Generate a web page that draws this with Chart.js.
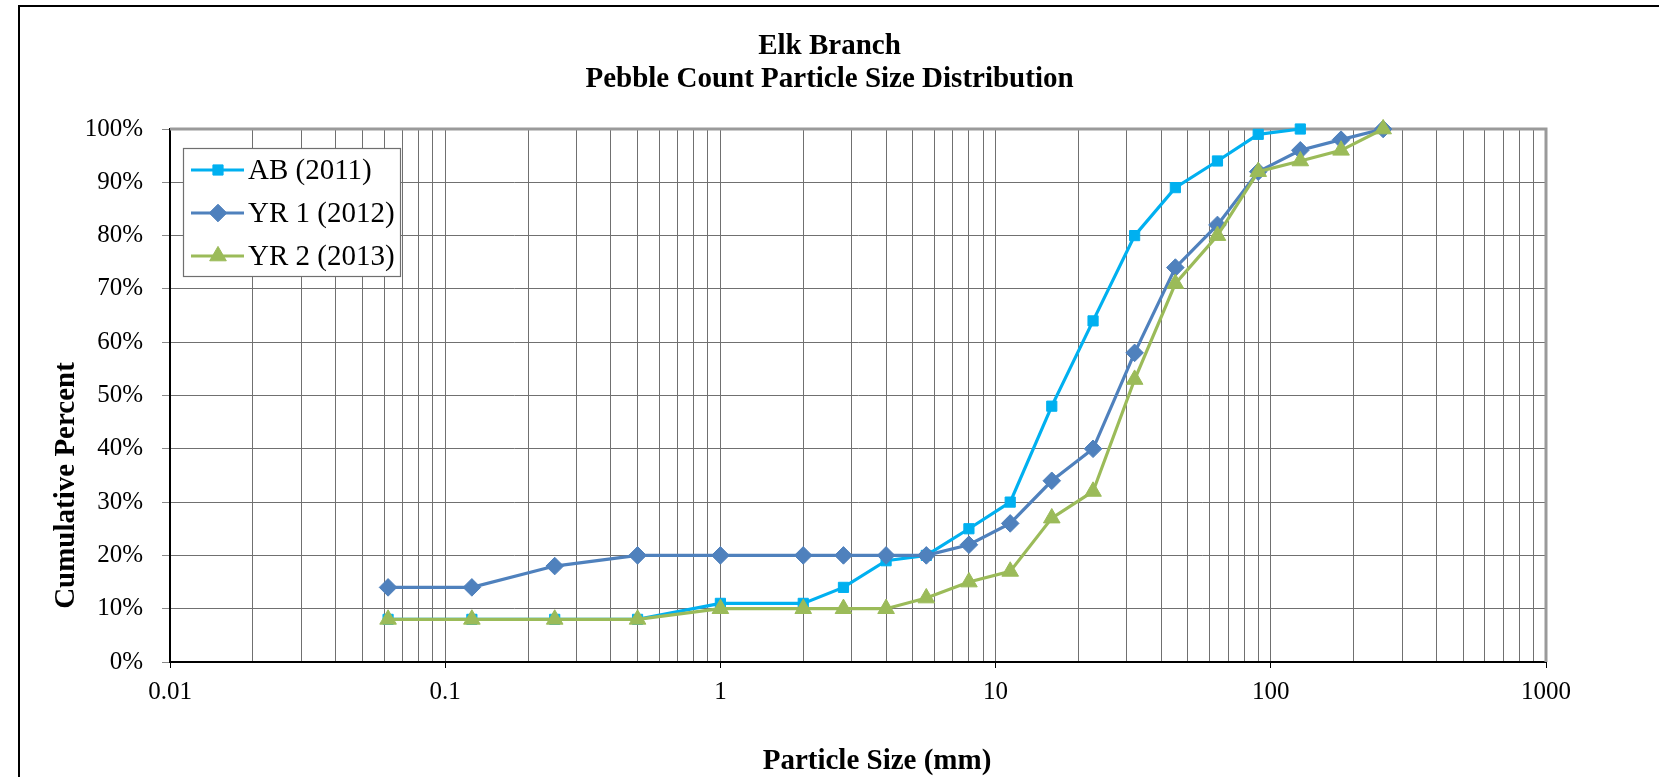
<!DOCTYPE html>
<html>
<head>
<meta charset="utf-8">
<script src="https://cdn.jsdelivr.net/npm/chart.js@4/dist/chart.umd.min.js"></script>
<style>
  html, body { margin: 0; padding: 0; background: #fff; }
  #wrap { position: relative; width: 1659px; height: 777px; }
</style>
</head>
<body>
<div id="wrap"><canvas id="c" width="1659" height="777"></canvas></div>
<script>
// ---- data ----
const sizes = [0.062, 0.125, 0.25, 0.5, 1, 2, 2.8, 4, 5.6, 8, 11.3, 16, 22.6, 32, 45, 64, 90, 128, 180, 256];
const ab2011 = [8, 8, 8, 8, 11, 11, 14, 19, 20, 25, 30, 48, 64, 80, 89, 94, 99, 100];
const yr1_2012 = [14, 14, 18, 20, 20, 20, 20, 20, 20, 22, 26, 34, 40, 58, 74, 82, 92, 96, 98, 100];
const yr2_2013 = [8, 8, 8, 8, 10, 10, 10, 10, 12, 15, 17, 27, 32, 53, 71, 80, 92, 94, 96, 100];
const seriesNames = ['AB (2011)', 'YR 1 (2012)', 'YR 2 (2013)'];
const decades = [0.01, 0.1, 1, 10, 100, 1000];
const xTickLabels = ['0.01', '0.1', '1', '10', '100', '1000'];
const minorMultipliers = [1, 2, 3, 4, 5, 6, 7, 8, 9];
const yTickValues = [0, 10, 20, 30, 40, 50, 60, 70, 80, 90, 100];
const titleLines = ['Elk Branch', 'Pebble Count Particle Size Distribution'];
const xTitle = 'Particle Size (mm)';
const yTitle = 'Cumulative Percent';

const toPts = (vals) => vals.map((v, i) => ({ x: sizes[i], y: v }));

const SERIF = "'Liberation Serif', 'Times New Roman', serif";

const styles = [
  { color: '#00B0F0', pointStyle: 'rect', radius: 7.2 },
  { color: '#4F81BD', pointStyle: 'rectRot', radius: 8.8 },
  { color: '#9BBB59', pointStyle: 'triangle', radius: 9.6 }
];

function mkDataset(i, vals, order) {
  const s = styles[i];
  return {
    label: seriesNames[i],
    data: toPts(vals),
    borderColor: s.color,
    backgroundColor: s.color,
    pointBackgroundColor: s.color,
    pointBorderColor: s.color,
    pointBorderWidth: 1,
    pointStyle: s.pointStyle,
    pointRadius: s.radius,
    borderWidth: 3.2,
    tension: 0,
    clip: false,
    order: order
  };
}

const isDecade = (v) => Math.abs(Math.log10(v) - Math.round(Math.log10(v))) < 1e-9;

const framePlugin = {
  id: 'frame',
  beforeDraw(chart) {
    const ctx = chart.ctx;
    ctx.save();
    ctx.fillStyle = '#fff';
    ctx.fillRect(0, 0, chart.width, chart.height);
    ctx.strokeStyle = '#000';
    ctx.lineWidth = 2;
    ctx.beginPath();
    ctx.moveTo(19, chart.height + 2);
    ctx.lineTo(19, 6);
    ctx.lineTo(chart.width + 2, 6);
    ctx.stroke();
    ctx.restore();
  },
  beforeDatasetsDraw(chart) {
    const a = chart.chartArea;
    const ctx = chart.ctx;
    ctx.save();
    ctx.strokeStyle = '#9a9a9a';
    ctx.lineWidth = 3;
    ctx.beginPath();
    ctx.moveTo(a.left, a.top);
    ctx.lineTo(a.right, a.top);
    ctx.lineTo(a.right, a.bottom);
    ctx.stroke();
    ctx.restore();
  },
  afterDraw(chart) {
    const ctx = chart.ctx;
    const a = chart.chartArea;
    ctx.save();
    ctx.fillStyle = '#000';
    ctx.textAlign = 'center';
    ctx.textBaseline = 'middle';
    ctx.font = 'bold 29px ' + SERIF;
    const cx = chart.width / 2;
    ctx.fillText(titleLines[0], cx, 47);
    ctx.fillText(titleLines[1], cx, 80);
    // axis titles
    ctx.fillText(xTitle, (a.left + a.right) / 2 + 19, 762);
    ctx.save();
    ctx.translate(67, (a.top + a.bottom) / 2 + 90);
    ctx.rotate(-Math.PI / 2);
    ctx.fillText(yTitle, 0, 0);
    ctx.restore();

    // legend
    const bx = a.left + 13, by = a.top + 19, bw = 217, bh = 128;
    ctx.fillStyle = '#fff';
    ctx.fillRect(bx, by, bw, bh);
    ctx.strokeStyle = '#6f6f6f';
    ctx.lineWidth = 1.2;
    ctx.strokeRect(bx + 0.5, by + 0.5, bw, bh);
    ctx.textAlign = 'left';
    ctx.font = '29px ' + SERIF;
    chart.data.datasets.forEach((ds, i) => {
      const y = by + 22 + i * 43;
      ctx.strokeStyle = ds.borderColor;
      ctx.lineWidth = 3.2;
      ctx.beginPath();
      ctx.moveTo(bx + 8, y);
      ctx.lineTo(bx + 61, y);
      ctx.stroke();
      ctx.fillStyle = ds.pointBackgroundColor;
      ctx.strokeStyle = ds.pointBorderColor;
      ctx.lineWidth = 1;
      Chart.helpers.drawPoint(ctx, { pointStyle: ds.pointStyle, radius: ds.pointRadius, rotation: 0, borderWidth: 1 }, bx + 35, y);
      ctx.fillStyle = '#000';
      ctx.fillText(ds.label, bx + 65, y + 1);
    });
    ctx.restore();
  }
};

new Chart(document.getElementById('c'), {
  type: 'line',
  data: {
    datasets: [
      mkDataset(0, ab2011, 3),
      mkDataset(1, yr1_2012, 2),
      mkDataset(2, yr2_2013, 1)
    ]
  },
  options: {
    responsive: false,
    animation: false,
    devicePixelRatio: 1,
    layout: { padding: { left: 70, right: 113, top: 129, bottom: 55 } },
    plugins: {
      legend: { display: false },
      title: { display: false },
      tooltip: { enabled: false }
    },
    scales: {
      x: {
        type: 'logarithmic',
        min: 0.01,
        max: 1000,
        afterBuildTicks(scale) {
          const t = [];
          decades.forEach((d) => {
            minorMultipliers.forEach((m) => {
              const v = +(d * m).toPrecision(6);
              if (v <= 1000) t.push({ value: v, major: m === 1 });
            });
          });
          scale.ticks = t;
        },
        afterFit(scale) { scale.height = 60; },
        ticks: {
          autoSkip: false,
          maxRotation: 0,
          padding: 9,
          color: '#000',
          font: { family: SERIF, size: 25 },
          callback(value) {
            if (!isDecade(value)) return '';
            const idx = decades.findIndex((d) => Math.abs(d - value) / d < 1e-9);
            return idx >= 0 ? xTickLabels[idx] : '';
          }
        },
        grid: {
          color: '#707070',
          lineWidth: 1,
          drawTicks: true,
          tickLength: 6,
          tickColor: (ctx) => (ctx.tick && isDecade(ctx.tick.value) ? '#000' : 'rgba(0,0,0,0)')
        },
        border: { color: '#000', width: 2 }
      },
      y: {
        type: 'linear',
        min: 0,
        max: 100,
        afterBuildTicks(scale) {
          scale.ticks = yTickValues.map((v) => ({ value: v }));
        },
        afterFit(scale) { scale.width = 100; },
        ticks: {
          padding: 19,
          color: '#000',
          font: { family: SERIF, size: 25 },
          callback: (v) => v + '%'
        },
        grid: {
          color: '#707070',
          lineWidth: 1,
          tickLength: 8,
          tickColor: '#888888'
        },
        border: { color: '#000', width: 2 }
      }
    }
  },
  plugins: [framePlugin]
});
</script>
</body>
</html>
